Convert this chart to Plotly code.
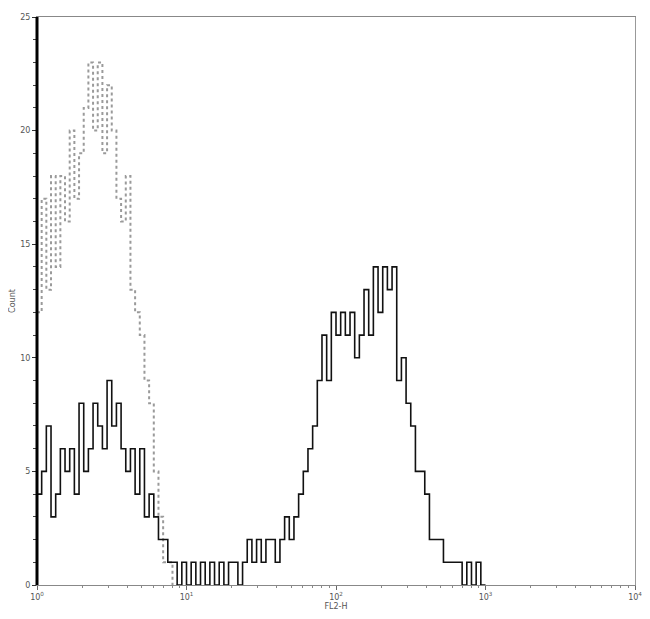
import plotly.graph_objects as go

# 128 channels spanning 10^0 .. 10^4 (channel index -> log position)
n_channels = 128

control_counts = [12, 17, 13, 18, 14, 18, 16, 20, 17, 19, 21, 23, 20, 23, 19, 22,
                  20, 17, 16, 18, 13, 12, 11, 9, 8, 5, 3, 1, 1, 0]

stained_counts = [4, 5, 7, 3, 4, 6, 5, 6, 4, 8, 5, 6, 8, 7, 6, 9,
                  7, 8, 6, 5, 6, 4, 6, 3, 4, 3, 2, 2, 1, 1, 0, 1,
                  0, 1, 0, 1, 0, 1, 0, 1, 0, 1, 1, 0, 1, 2, 1, 2,
                  1, 2, 2, 1, 2, 3, 2, 3, 4, 5, 6, 7, 9, 11, 9, 12,
                  11, 12, 11, 12, 10, 11, 13, 11, 14, 12, 14, 13, 14, 9, 10, 8,
                  7, 5, 5, 4, 2, 2, 2, 1, 1, 1, 1, 0, 1, 0, 1, 0]

x_tick_vals = [1, 10, 100, 1000, 10000]
x_tick_text = ["10<sup>0</sup>", "10<sup>1</sup>", "10<sup>2</sup>", "10<sup>3</sup>", "10<sup>4</sup>"]
y_tick_vals = [0, 5, 10, 15, 20, 25]
y_tick_labels = ["0", "5", "10", "15", "20", "25"]
x_title = "FL2-H"
y_title = "Count"


def step_xy(counts):
    xs, ys = [], []
    for i, c in enumerate(counts):
        xs.append(10 ** (i * 4 / n_channels))
        ys.append(c)
    xs.append(10 ** (len(counts) * 4 / n_channels))
    ys.append(0)
    return xs, ys


fig = go.Figure()
cx, cy = step_xy(control_counts)
fig.add_trace(go.Scatter(x=cx, y=cy, mode="lines", line_shape="hv",
                         line=dict(color="#9a9a9a", width=2, dash="dot"),
                         showlegend=False))
sx, sy = step_xy(stained_counts)
fig.add_trace(go.Scatter(x=sx, y=sy, mode="lines", line_shape="hv",
                         line=dict(color="#111111", width=1.6),
                         showlegend=False))

minor_x = [m * 10 ** d for d in range(4) for m in range(2, 10)]

fig.update_layout(
    width=642, height=611,
    margin=dict(l=29, r=15, t=9, b=34, autoexpand=False),
    paper_bgcolor="white", plot_bgcolor="white",
    font=dict(family="DejaVu Sans", size=8, color="#555555"),
    xaxis=dict(type="log", range=[0, 4], tickvals=x_tick_vals, ticktext=x_tick_text,
               ticks="outside", ticklen=4, tickcolor="#666666", automargin=False,
               minor=dict(tickvals=minor_x, ticks="outside", ticklen=2, tickcolor="#888888"),
               showgrid=False, zeroline=False,
               showline=True, linecolor="#888888", linewidth=1, mirror=True,
               title=dict(text=x_title, standoff=2, font=dict(size=8))),
    yaxis=dict(range=[0, 25], tickvals=y_tick_vals, ticktext=y_tick_labels,
               ticks="outside", ticklen=4, tickcolor="#333333", automargin=False,
               minor=dict(dtick=1, ticks="outside", ticklen=3, tickcolor="#444444"),
               showgrid=False, zeroline=False,
               showline=True, linecolor="#999999", linewidth=1, mirror=True,
               title=dict(text=y_title, standoff=4, font=dict(size=8))),
)
# thick left axis line
fig.add_shape(type="line", xref="paper", yref="paper", x0=0, x1=0, y0=0, y1=1,
              line=dict(color="black", width=3))

fig.write_html("out.html")
